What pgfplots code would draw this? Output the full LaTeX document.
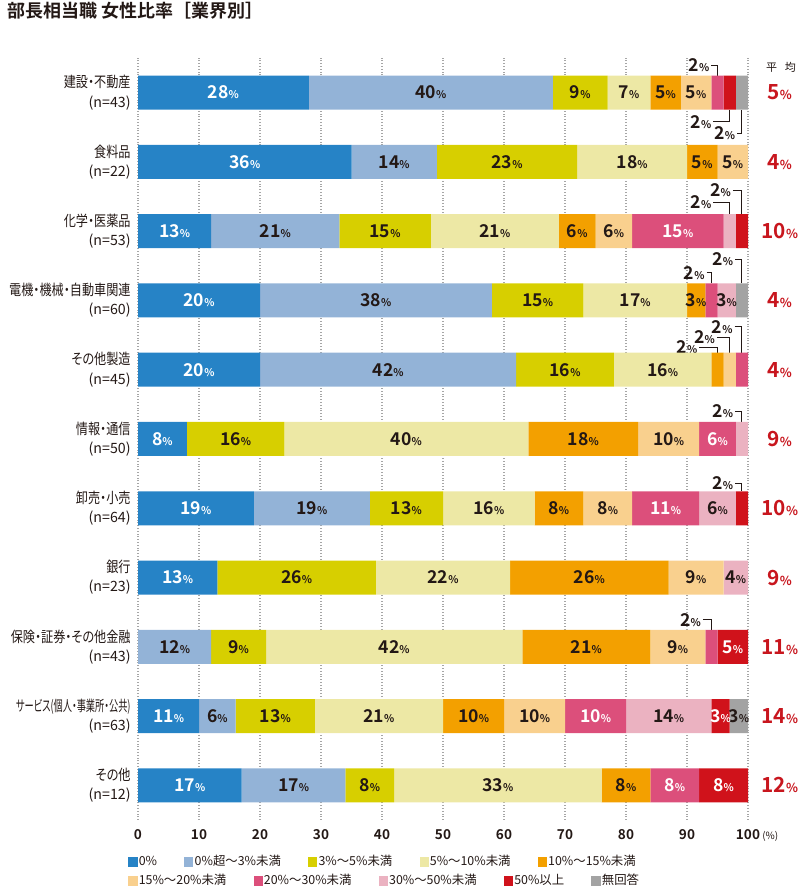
\documentclass[border=0pt]{standalone}
\usepackage{fontspec}
\setmainfont{Noto Sans CJK JP}[BoldFont={Noto Sans CJK JP Bold}]
\newfontfamily\cnd{Noto Sans CJK JP}[FakeStretch=0.82,RawFeature=+palt,BoldFont={Noto Sans CJK JP Bold}]
\usepackage{graphicx}
\usepackage{pgfplots}
\usepackage{pgfplotstable}
\pgfplotsset{compat=1.18}

\definecolor{cA}{HTML}{2683C6}
\definecolor{cB}{HTML}{93B3D7}
\definecolor{cC}{HTML}{D7CF00}
\definecolor{cD}{HTML}{EDE8A5}
\definecolor{cE}{HTML}{F3A000}
\definecolor{cF}{HTML}{F9D08E}
\definecolor{cG}{HTML}{DC4F7B}
\definecolor{cH}{HTML}{EBB2C1}
\definecolor{cI}{HTML}{D0121B}
\definecolor{cJ}{HTML}{A3A3A3}
\definecolor{txt}{HTML}{231815}
\definecolor{avg}{HTML}{C8161E}

\def\nn{n}
\newcommand\pct[1]{{\bfseries\fontsize{8.8}{8.8}\selectfont #1{\fontsize{5.3}{5.3}\selectfont\%}}}
\newcommand\avgv[1]{{\bfseries\fontsize{10.4}{10.4}\selectfont #1{\fontsize{6.2}{6.2}\selectfont\%}}}
\newcommand\lead[4]{%
  \draw[line width=0.5pt, txt] (axis cs:#2,#1) -- (axis cs:#3,#1) -- (axis cs:#3,#4);
  \node[anchor=east, inner sep=0.8pt, text=txt] at (axis cs:#2,#1) {\pct{2}};
}
\newcommand\nlab[1]{{\normalfont\fontsize{7.1}{9.6}\selectfont #1}}
\pgfplotsset{
  seg/.style 2 args={fill=#1, draw=none, every node near coord/.append style={text=#2}},
  legsw/.style={fill=#1, draw=none, legend image code/.code={\fill[##1] (0pt,-2.3pt) rectangle (4.6pt,2.3pt);}},
}

% rows: r = 10 (top) ... 0 (bottom); value columns a..j, label columns la..lj (n = label outside / none)
\pgfplotstableread{
r a la b lb c lc d ld e le f lf g lg h lh i li j lj
10 28 28 40 40 9 9 7 7 5 5 5 5 2 n 0 n 2 n 2 n
9 35 36 14 14 23 23 18 18 5 5 5 5 0 n 0 n 0 n 0 n
8 12 13 21 21 15 15 21 21 6 6 6 6 15 15 2 n 2 n 0 n
7 20 20 38 38 15 15 17 17 3 3 0 n 2 n 3 3 0 n 2 n
6 20 20 42 42 16 16 16 16 2 n 2 n 2 n 0 n 0 n 0 n
5 8 8 0 n 16 16 40 40 18 18 10 10 6 6 2 n 0 n 0 n
4 19 19 19 19 12 13 15 16 8 8 8 8 11 11 6 6 2 n 0 n
3 13 13 0 n 26 26 22 22 26 26 9 9 0 n 4 4 0 n 0 n
2 0 n 12 12 9 9 42 42 21 21 9 9 2 n 0 n 5 5 0 n
1 10 11 6 6 13 13 21 21 10 10 10 10 10 10 14 14 3 3 3 3
0 17 17 17 17 8 8 34 33 8 8 0 n 8 8 0 n 8 8 0 n
}\datatable

\begin{document}
\begin{tikzpicture}
\useasboundingbox (-69pt,-36pt) rectangle (330.5pt,410pt);
\node[anchor=west, text=txt, font=\bfseries\fontsize{9}{9}\selectfont] at (-69pt,404.5pt) {部長相当職 女性比率［業界別］};

\begin{axis}[
  scale only axis, width=305pt, height=381pt,
  xbar stacked, bar width=17pt,
  xmin=0, xmax=100, ymin=-0.5, ymax=10.5,
  enlarge x limits=false, enlarge y limits=false,
  axis line style={draw=none}, major tick length=0pt,
  xtick={0,10,...,100},
  xticklabels={0,10,20,30,40,50,60,70,80,90,{100\rlap{\,{\mdseries\fontsize{5}{5}\selectfont(\%)}}}},
  xticklabel style={font=\bfseries\fontsize{6.8}{7}\selectfont, text=txt, inner sep=0pt, yshift=-4.5pt},
  ytick={0,...,10},
  yticklabels={
    {その他\\\nlab{(n=12)}},
    {\scalebox{0.76}[1]{サービス(個人・事業所・公共)}\\\nlab{(n=63)}},
    {保険・証券・その他金融\\\nlab{(n=43)}},
    {銀行\\\nlab{(n=23)}},
    {卸売・小売\\\nlab{(n=64)}},
    {情報・通信\\\nlab{(n=50)}},
    {その他製造\\\nlab{(n=45)}},
    {電機・機械・自動車関連\\\nlab{(n=60)}},
    {化学・医薬品\\\nlab{(n=53)}},
    {食料品\\\nlab{(n=22)}},
    {建設・不動産\\\nlab{(n=43)}}},
  yticklabel style={align=right, font=\cnd\fontsize{7.4}{9.6}\selectfont, text=txt, inner sep=0pt, xshift=-3.5pt},
  xmajorgrids, major grid style={densely dotted, black!35, line width=0.6pt},
  point meta=explicit symbolic,
  nodes near coords={\edef\tmp{\pgfplotspointmeta}\ifx\tmp\nn\else\pct{\tmp}\fi},
  every node near coord/.append style={anchor=center, inner sep=0pt},
  clip=false,
]
\addplot[seg={cA}{white}] table[x=a,y=r,meta=la]{\datatable};
\addplot[seg={cB}{txt}] table[x=b,y=r,meta=lb]{\datatable};
\addplot[seg={cC}{txt}] table[x=c,y=r,meta=lc]{\datatable};
\addplot[seg={cD}{txt}] table[x=d,y=r,meta=ld]{\datatable};
\addplot[seg={cE}{txt}] table[x=e,y=r,meta=le]{\datatable};
\addplot[seg={cF}{txt}] table[x=f,y=r,meta=lf]{\datatable};
\addplot[seg={cG}{white}] table[x=g,y=r,meta=lg]{\datatable};
\addplot[seg={cH}{txt}] table[x=h,y=r,meta=lh]{\datatable};
\addplot[seg={cI}{white}] table[x=i,y=r,meta=li]{\datatable};
\addplot[seg={cJ}{txt}] table[x=j,y=r,meta=lj]{\datatable};

% leader labels for small segments
\lead{10.39}{94.0}{95}{10.245}
\lead{9.58}{94.3}{97}{9.755}
\lead{9.41}{98.2}{99}{9.755}
\lead{8.42}{94.3}{97}{8.245}
\lead{8.59}{97.5}{99}{8.245}
\lead{7.40}{93.2}{94}{7.245}
\lead{7.59}{97.9}{99}{7.245}
\lead{6.32}{92.0}{95}{6.245}
\lead{6.47}{94.9}{97}{6.245}
\lead{6.62}{97.8}{99}{6.245}
\lead{5.40}{97.9}{99}{5.245}
\lead{4.36}{97.9}{99}{4.245}
\lead{2.39}{92.6}{94}{2.245}

% average column
\node[text=txt, font=\fontsize{5.5}{6}\selectfont] at (axis cs:105.4,10.36) {平\hspace{0.7em}均};
\node[text=avg] at (axis cs:105.2,10) {\avgv{5}};
\node[text=avg] at (axis cs:105.2,9) {\avgv{4}};
\node[text=avg] at (axis cs:105.2,8) {\avgv{10}};
\node[text=avg] at (axis cs:105.2,7) {\avgv{4}};
\node[text=avg] at (axis cs:105.2,6) {\avgv{4}};
\node[text=avg] at (axis cs:105.2,5) {\avgv{9}};
\node[text=avg] at (axis cs:105.2,4) {\avgv{10}};
\node[text=avg] at (axis cs:105.2,3) {\avgv{9}};
\node[text=avg] at (axis cs:105.2,2) {\avgv{11}};
\node[text=avg] at (axis cs:105.2,1) {\avgv{14}};
\node[text=avg] at (axis cs:105.2,0) {\avgv{12}};
\end{axis}

% legend row 1
\begin{axis}[hide axis, scale only axis, width=305pt, height=381pt, xmin=0, xmax=1, ymin=0, ymax=1,
  legend style={at={(-0.0164,-0.0551)}, anchor=west, draw=none, fill=none, inner sep=0pt,
    font=\fontsize{6.2}{7}\selectfont, text=txt, legend columns=5,
    /tikz/every even column/.append style={column sep=13pt}, nodes={inner sep=0.6pt}},
  legend cell align=left]
\addlegendimage{legsw=cA}\addlegendentry{0\%}
\addlegendimage{legsw=cB}\addlegendentry{0\%超～3\%未満}
\addlegendimage{legsw=cC}\addlegendentry{3\%～5\%未満}
\addlegendimage{legsw=cD}\addlegendentry{5\%～10\%未満}
\addlegendimage{legsw=cE}\addlegendentry{10\%～15\%未満}
\end{axis}
% legend row 2
\begin{axis}[hide axis, scale only axis, width=305pt, height=381pt, xmin=0, xmax=1, ymin=0, ymax=1,
  legend style={at={(-0.0164,-0.080)}, anchor=west, draw=none, fill=none, inner sep=0pt,
    font=\fontsize{6.2}{7}\selectfont, text=txt, legend columns=5,
    /tikz/every even column/.append style={column sep=13pt}, nodes={inner sep=0.6pt}},
  legend cell align=left]
\addlegendimage{legsw=cF}\addlegendentry{15\%～20\%未満}
\addlegendimage{legsw=cG}\addlegendentry{20\%～30\%未満}
\addlegendimage{legsw=cH}\addlegendentry{30\%～50\%未満}
\addlegendimage{legsw=cI}\addlegendentry{50\%以上}
\addlegendimage{legsw=cJ}\addlegendentry{無回答}
\end{axis}
\end{tikzpicture}
\end{document}
